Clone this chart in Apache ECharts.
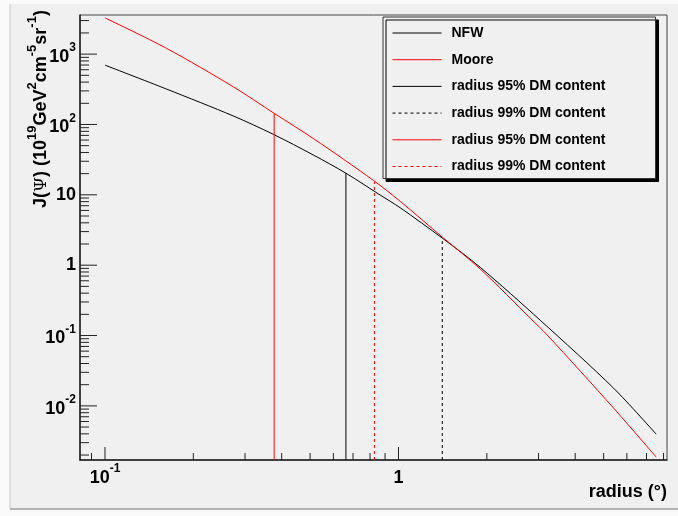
<!DOCTYPE html>
<html>
<head>
<meta charset="utf-8">
<script src="https://cdn.jsdelivr.net/npm/echarts@6/dist/echarts.min.js"></script>
<style>
  html, body { margin: 0; padding: 0; background: #fafafa; }
  #chart { width: 678px; height: 516px; }
</style>
</head>
<body>
<div id="chart"></div>
<script>
// axis ranges (degrees / 10^19 GeV^2 cm^-5 sr^-1)
const xMin = 0.0822, xMax = 8.22;
const yMin = 0.0017, yMax = 3600;

// NFW profile
const nfwRadius = [0.1, 0.1623, 0.2738, 0.375, 0.513, 0.662, 0.866, 1.013, 1.413, 1.9, 3.04, 5.41, 7.55];
const nfwJ      = [698, 318, 132, 72.3, 36.8, 20.3, 9.93, 6.56, 2.41, 0.93, 0.165, 0.0178, 0.00396];

// Moore profile
const mooreRadius = [0.1, 0.1623, 0.2738, 0.377, 0.513, 0.822, 1.013, 1.413, 1.9, 2.85, 3.21, 5.41, 7.55];
const mooreJ      = [3280, 1205, 343, 144, 63, 16.0, 8.1, 2.49, 0.88, 0.167, 0.102, 0.00927, 0.00187];

// radius containing 95% / 99% of DM, with J at that radius
const nfw95 = [0.662, 20.4];
const nfw99 = [1.41, 2.41];
const moore95 = [0.377, 144];
const moore99 = [0.828, 15.5];

// axis ticks
const xTicksMajor = [0.1, 1];
const xTicksMinor = [0.09, 0.2, 0.3, 0.4, 0.5, 0.6, 0.7, 0.8, 0.9, 2, 3, 4, 5, 6, 7, 8];
const yTicksMajor = [0.01, 0.1, 1, 10, 100, 1000];
const yTicksMinor = [0.002, 0.003, 0.004, 0.005, 0.006, 0.007, 0.008, 0.009,
  0.02, 0.03, 0.04, 0.05, 0.06, 0.07, 0.08, 0.09,
  0.2, 0.3, 0.4, 0.5, 0.6, 0.7, 0.8, 0.9,
  2, 3, 4, 5, 6, 7, 8, 9,
  20, 30, 40, 50, 60, 70, 80, 90,
  200, 300, 400, 500, 600, 700, 800, 900,
  2000, 3000];

const legendText = {
  'NFW': 'NFW',
  'Moore': 'Moore',
  'NFW 95': 'radius 95% DM content',
  'NFW 99': 'radius 99% DM content',
  'Moore 95': 'radius 95% DM content',
  'Moore 99': 'radius 99% DM content'
};

const font = '"Liberation Sans", Arial, Helvetica, sans-serif';

const zip = (xs, ys) => xs.map((x, i) => [x, ys[i]]);
const vline = (p) => [[p[0], yMin], [p[0], p[1]]];

// tick marks: [x, y, length, axis] axis 0 = x, 1 = y
const tickData = [];
xTicksMajor.forEach(v => tickData.push([v, yMin, 13, 0]));
xTicksMinor.forEach(v => tickData.push([v, yMin, 7, 0]));
yTicksMajor.forEach(v => tickData.push([xMin, v, 17, 1]));
yTicksMinor.forEach(v => tickData.push([xMin, v, 9, 1]));

const supLabel = (value, plainStyle) => {
  const e = Math.log10(value);
  const n = Math.round(e);
  if (Math.abs(e - n) > 1e-6) return '';
  if (n === 0) return '{' + plainStyle + '|1}';
  if (n === 1) return '{' + plainStyle + '|10}';
  return '{b|10}{s|' + n + '}';
};

const labelRich = {
  b: { fontFamily: font, fontWeight: 'bold', fontSize: 18, lineHeight: 24, verticalAlign: 'bottom', color: '#000' },
  n: { fontFamily: font, fontWeight: 'bold', fontSize: 18, lineHeight: 24, verticalAlign: 'middle', color: '#000' },
  s: { fontFamily: font, fontWeight: 'bold', fontSize: 12, lineHeight: 24, verticalAlign: 'top', color: '#000' }
};

const chart = echarts.init(document.getElementById('chart'));

chart.setOption({
  backgroundColor: '#fafafa',
  animation: false,
  grid: {
    left: 80, top: 15, right: 11, bottom: 56,
    show: true, borderColor: '#444', borderWidth: 1, backgroundColor: 'transparent'
  },
  xAxis: {
    type: 'log', logBase: 10, min: xMin, max: xMax,
    axisLine: { show: true, onZero: false, lineStyle: { color: '#222', width: 1.5 } },
    axisTick: { show: false },
    splitLine: { show: false },
    minorTick: { show: false },
    axisLabel: {
      margin: 3, showMinLabel: false, showMaxLabel: false,
      formatter: v => supLabel(v, 'b'),
      rich: labelRich
    }
  },
  yAxis: {
    type: 'log', logBase: 10, min: yMin, max: yMax,
    axisLine: { show: true, onZero: false, lineStyle: { color: '#222', width: 1.5 } },
    axisTick: { show: false },
    splitLine: { show: false },
    minorTick: { show: false },
    axisLabel: {
      margin: 4, showMinLabel: false, showMaxLabel: false,
      formatter: v => supLabel(v, 'n'),
      rich: labelRich
    }
  },
  legend: {
    orient: 'vertical', left: 383, top: 17,
    padding: [9, 50, 5, 9],
    itemWidth: 49, itemHeight: 14, itemGap: 12.7,
    backgroundColor: '#f0f0f0', borderColor: '#333', borderWidth: 1,
    shadowColor: '#000', shadowOffsetX: 3, shadowOffsetY: 3, shadowBlur: 0,
    itemStyle: { opacity: 0 },
    lineStyle: { width: 1 },
    textStyle: { fontFamily: font, fontWeight: 'bold', fontSize: 14, color: '#000', padding: [0, 0, 0, 5] },
    formatter: name => legendText[name],
    selectedMode: false,
    data: ['NFW', 'Moore', 'NFW 95', 'NFW 99', 'Moore 95', 'Moore 99']
  },
  graphic: [
    { type: 'rect', z: -100, shape: { x: 10, y: 4, width: 668, height: 505 }, style: { fill: '#f0f0f0' }, silent: true },
    { type: 'line', z: -99, shape: { x1: 10, y1: 4, x2: 10, y2: 509 }, style: { stroke: '#c8c8c8', lineWidth: 1 }, silent: true },
    { type: 'line', z: -99, shape: { x1: 10, y1: 509, x2: 678, y2: 509 }, style: { stroke: '#b4b4b4', lineWidth: 2 }, silent: true },
    {
      type: 'text', x: 38, y: 109, rotation: Math.PI / 2, silent: true,
      style: {
        text: '{t|J(}{p|Ψ}{t|) (10}{s|19}{t|GeV}{s|2}{t|cm}{s|-5}{t|sr}{s|-1}{t|)}',
        align: 'center', verticalAlign: 'middle',
        rich: {
          t: { fontFamily: font, fontWeight: 'bold', fontSize: 18, lineHeight: 24, verticalAlign: 'bottom', fill: '#000' },
          p: { fontFamily: '"DejaVu Serif", serif', fontSize: 17, lineHeight: 24, verticalAlign: 'bottom', fill: '#000' },
          s: { fontFamily: font, fontWeight: 'bold', fontSize: 13, lineHeight: 24, verticalAlign: 'top', fill: '#000' }
        }
      }
    },
    {
      type: 'text', right: 11, top: 483, silent: true,
      style: { text: 'radius (°)', fontFamily: font, fontWeight: 'bold', fontSize: 18, fill: '#000' }
    }
  ],
  series: [
    { name: 'NFW', type: 'line', data: zip(nfwRadius, nfwJ), smooth: 0.3, symbol: 'none',
      lineStyle: { color: '#000', width: 1 }, itemStyle: { color: '#000' } },
    { name: 'Moore', type: 'line', data: zip(mooreRadius, mooreJ), smooth: 0.3, symbol: 'none',
      lineStyle: { color: '#ff0000', width: 1 }, itemStyle: { color: '#ff0000' } },
    { name: 'NFW 95', type: 'line', data: vline(nfw95), symbol: 'none',
      lineStyle: { color: '#000', width: 1 }, itemStyle: { color: '#000' } },
    { name: 'NFW 99', type: 'line', data: vline(nfw99), symbol: 'none',
      lineStyle: { color: '#000', width: 1, type: [3, 3] }, itemStyle: { color: '#000' } },
    { name: 'Moore 95', type: 'line', data: vline(moore95), symbol: 'none',
      lineStyle: { color: '#ff0000', width: 1 }, itemStyle: { color: '#ff0000' } },
    { name: 'Moore 99', type: 'line', data: vline(moore99), symbol: 'none',
      lineStyle: { color: '#ff0000', width: 1, type: [3, 3] }, itemStyle: { color: '#ff0000' } },
    {
      name: 'ticks', type: 'custom', silent: true, z: 5,
      data: tickData,
      renderItem: (params, api) => {
        const p = api.coord([api.value(0), api.value(1)]);
        const len = api.value(2);
        const isX = api.value(3) === 0;
        return {
          type: 'line',
          shape: isX
            ? { x1: p[0], y1: p[1], x2: p[0], y2: p[1] - len }
            : { x1: p[0], y1: p[1], x2: p[0] + len, y2: p[1] },
          style: { stroke: '#222', lineWidth: 1 }
        };
      }
    }
  ]
});
</script>
</body>
</html>
